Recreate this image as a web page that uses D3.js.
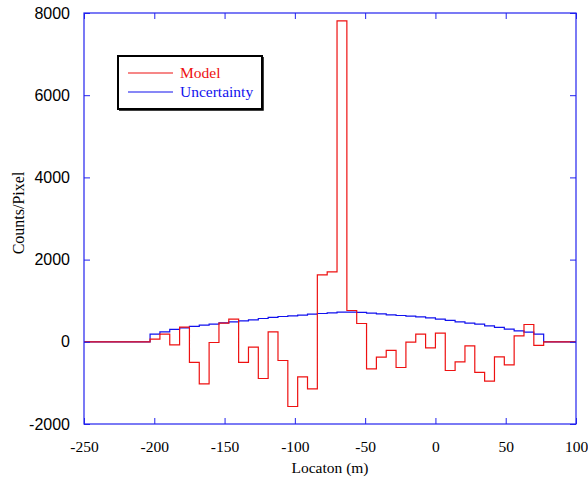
<!DOCTYPE html>
<html>
<head>
<meta charset="utf-8">
<script src="https://cdn.jsdelivr.net/npm/d3@7"></script>
<style>
  body { margin: 0; background: #fff; }
  svg { display: block; }
</style>
</head>
<body>
<div id="chart"></div>
<script>
// bin edges (m) of the step histogram
var binEdges = [-250, -203, -196, -189, -182, -175, -168, -161, -154, -147, -140,
    -133, -126, -119, -112, -105, -98, -91, -84, -77, -70, -63, -56, -49, -42,
    -35, -28, -21, -14, -7, 0, 7, 14, 21, 28, 35, 42, 49, 56, 63, 70, 77, 100];

// counts per pixel, one per bin
var modelValues = [0, 65, 187, -73, 357, -503, -1022, -17, 455, 552, -503,
    -130, -893, 243, -455, -1574, -852, -1144, 1630, 1703, 7810, 762, 445, -657,
    -373, -211, -625, -8, 187, -146, 211, -698, -487, -97, -746, -957, -365,
    -560, 146, 421, -89, 0];

var uncertaintyValues = [0, 187, 243, 300, 340, 373, 405, 430, 462, 486, 511,
    535, 567, 592, 616, 632, 649, 673, 689, 705, 722, 722, 714, 697, 681, 657,
    640, 624, 608, 584, 551, 519, 486, 454, 430, 389, 349, 308, 268, 235, 187, 0];

var xTicks = [-250, -200, -150, -100, -50, 0, 50, 100];
var yTicks = [-2000, 0, 2000, 4000, 6000, 8000];

var seriesNames = ["Model", "Uncertainty"];
var seriesColors = ["#ee1111", "#1111ee"];

var width = 588, height = 484;
var margin = {top: 13, right: 12, bottom: 60, left: 84};

var svg = d3.select("#chart").append("svg")
    .attr("width", width)
    .attr("height", height);

var x = d3.scaleLinear().domain([-250, 100]).range([margin.left, width - margin.right]);
var y = d3.scaleLinear().domain([-2000, 8000]).range([height - margin.bottom, margin.top]);

// plain hyphen for negatives, like the original
function plain(d) { return String(d); }

// turn bin values into step points
function stepPoints(values) {
    var pts = [];
    for (var i = 0; i < values.length; i++) {
        pts.push([binEdges[i], values[i]]);
    }
    pts.push([binEdges[binEdges.length - 1], values[values.length - 1]]);
    return pts;
}

var line = d3.line()
    .x(function (d) { return x(d[0]); })
    .y(function (d) { return y(d[1]); })
    .curve(d3.curveStepAfter);

svg.append("path")
    .datum(stepPoints(uncertaintyValues))
    .attr("d", line)
    .attr("fill", "none")
    .attr("stroke", seriesColors[1])
    .attr("stroke-width", 1.2);

svg.append("path")
    .datum(stepPoints(modelValues))
    .attr("d", line)
    .attr("fill", "none")
    .attr("stroke", seriesColors[0])
    .attr("stroke-width", 1.2);

// frame, ticks inward on every side
var frameColor = "#2222ee";
var tickLen = 6;

function styleAxis(g) {
    g.select(".domain").remove();
    g.selectAll(".tick line").attr("stroke", frameColor);
}

svg.append("g")
    .attr("transform", "translate(0," + y.range()[0] + ")")
    .call(d3.axisBottom(x).tickValues(xTicks).tickSize(-tickLen).tickPadding(17)
        .tickFormat(plain))
    .call(styleAxis)
    .call(function (g) {
        g.selectAll("text")
            .attr("font-family", "'Liberation Serif', 'Times New Roman', serif")
            .attr("font-size", 15.5)
            .attr("fill", "#000");
    });

svg.append("g")
    .attr("transform", "translate(0," + y.range()[1] + ")")
    .call(d3.axisTop(x).tickValues(xTicks).tickSize(-tickLen).tickFormat(""))
    .call(styleAxis);

svg.append("g")
    .attr("transform", "translate(" + x.range()[0] + ",0)")
    .call(d3.axisLeft(y).tickValues(yTicks).tickSize(-tickLen).tickPadding(14)
        .tickFormat(plain))
    .call(styleAxis)
    .call(function (g) {
        g.selectAll("text")
            .attr("font-family", "'Liberation Sans', Arial, sans-serif")
            .attr("font-size", 16)
            .attr("fill", "#000");
    });

svg.append("g")
    .attr("transform", "translate(" + x.range()[1] + ",0)")
    .call(d3.axisRight(y).tickValues(yTicks).tickSize(-tickLen).tickFormat(""))
    .call(styleAxis);

svg.append("rect")
    .attr("x", x.range()[0])
    .attr("y", y.range()[1])
    .attr("width", x.range()[1] - x.range()[0])
    .attr("height", y.range()[0] - y.range()[1])
    .attr("fill", "none")
    .attr("stroke", frameColor)
    .attr("stroke-width", 1.2);

// axis titles
svg.append("text")
    .attr("x", (x.range()[0] + x.range()[1]) / 2)
    .attr("y", 473)
    .attr("text-anchor", "middle")
    .attr("font-family", "'Liberation Serif', 'Times New Roman', serif")
    .attr("font-size", 15.5)
    .text("Locaton (m)");

svg.append("text")
    .attr("transform", "translate(24," + 213 + ") rotate(-90)")
    .attr("text-anchor", "middle")
    .attr("font-family", "'Liberation Serif', 'Times New Roman', serif")
    .attr("font-size", 16)
    .text("Counts/Pixel");

// legend
var legend = svg.append("g");
legend.append("rect")
    .attr("x", 118).attr("y", 56)
    .attr("width", 144).attr("height", 53)
    .attr("fill", "#fff")
    .attr("stroke", "#000")
    .attr("stroke-width", 2);
legend.append("path")
    .attr("d", "M263,57V110H119")
    .attr("fill", "none")
    .attr("stroke", "#000")
    .attr("stroke-width", 1.5);

seriesNames.forEach(function (name, i) {
    var ly = 73 + i * 19;
    legend.append("line")
        .attr("x1", 128).attr("x2", 173)
        .attr("y1", ly).attr("y2", ly)
        .attr("stroke", seriesColors[i])
        .attr("stroke-width", 1.2);
    legend.append("text")
        .attr("x", 180).attr("y", ly + 5)
        .attr("font-family", "'Liberation Serif', 'Times New Roman', serif")
        .attr("font-size", 15.5)
        .attr("fill", seriesColors[i])
        .text(name);
});
</script>
</body>
</html>
